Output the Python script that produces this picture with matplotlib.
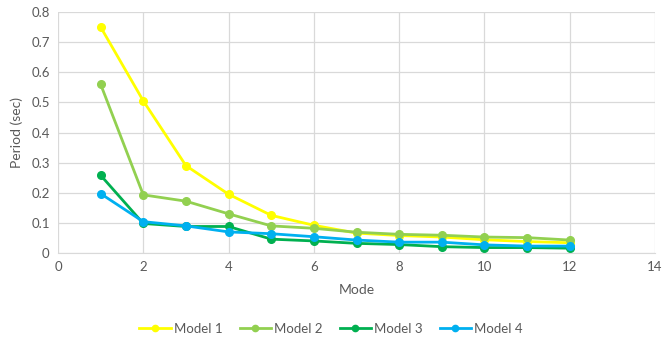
import matplotlib
matplotlib.use("Agg")
import matplotlib.pyplot as plt

plt.rcParams['font.family'] = ['Lato', 'DejaVu Sans']

# Data
modes = [1, 2, 3, 4, 5, 6, 7, 8, 9, 10, 11, 12]
model_1 = [0.75, 0.505, 0.29, 0.195, 0.125, 0.092, 0.066, 0.058, 0.053, 0.044, 0.038, 0.034]
model_2 = [0.56, 0.193, 0.172, 0.13, 0.09, 0.082, 0.069, 0.062, 0.059, 0.053, 0.051, 0.043]
model_3 = [0.258, 0.098, 0.088, 0.088, 0.046, 0.04, 0.032, 0.028, 0.021, 0.018, 0.018, 0.016]
model_4 = [0.197, 0.104, 0.09, 0.07, 0.064, 0.054, 0.043, 0.036, 0.036, 0.027, 0.023, 0.023]

series = [("Model 1", model_1, "#FFFF00"),
          ("Model 2", model_2, "#92D050"),
          ("Model 3", model_3, "#00B050"),
          ("Model 4", model_4, "#00B0F0")]

text_color = "#595959"
grid_color = "#D9D9D9"

fig = plt.figure(figsize=(6.62, 3.40), dpi=100)
ax = fig.add_axes([58 / 662, 1 - 253 / 340, (655 - 58) / 662, (253 - 12) / 340])

for name, vals, color in series:
    ax.plot(modes, vals, color=color, linewidth=2, marker="o", markersize=5.5, label=name)

ax.set_xlim(0, 14)
ax.set_ylim(0, 0.8)
ax.set_xticks(range(0, 15, 2))
ax.set_yticks([i / 10 for i in range(9)])
ax.set_yticklabels(["0"] + [f"{i / 10:.1f}" for i in range(1, 9)])
ax.grid(True, color=grid_color, linewidth=0.9)
ax.set_axisbelow(True)
for side in ["top", "right", "left"]:
    ax.spines[side].set_visible(False)
ax.spines["bottom"].set_color(grid_color)
ax.tick_params(length=0, colors=text_color, labelsize=9.5, pad=6)

ax.set_xlabel("Mode", color=text_color, fontsize=10, labelpad=8)
ax.set_ylabel("Period (sec)", color=text_color, fontsize=10, labelpad=6)

leg = fig.legend(loc="lower center", bbox_to_anchor=(0.5, -0.02), ncol=4, frameon=False,
                 fontsize=9.5, handlelength=2.4, columnspacing=1.3, handletextpad=0.2)
for t in leg.get_texts():
    t.set_color(text_color)
for h in leg.legend_handles:
    h.set_markersize(4.5)

fig.savefig("out.png", dpi=100)
